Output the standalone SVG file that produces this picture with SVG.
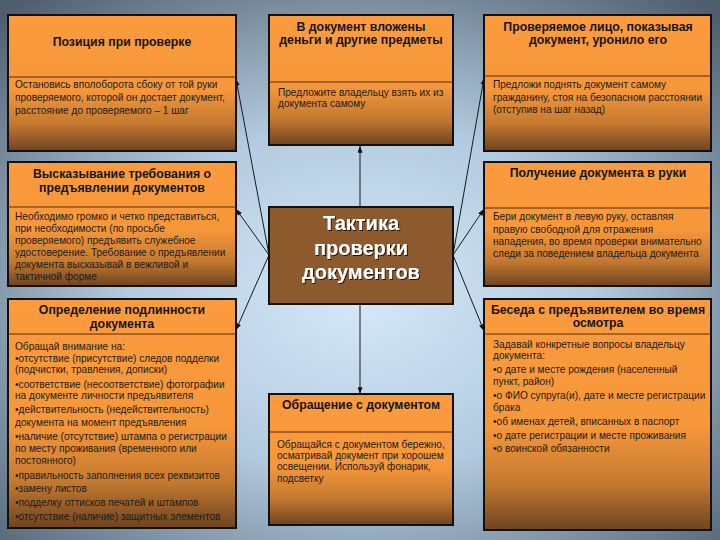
<svg xmlns="http://www.w3.org/2000/svg" width="720" height="540" viewBox="0 0 720 540">
<defs>
<radialGradient id="bg" cx="50%" cy="55%" r="72%">
<stop offset="0" stop-color="#d6e8f8"/>
<stop offset="0.45" stop-color="#b3cbe0"/>
<stop offset="1" stop-color="#4e5e6e"/>
</radialGradient>
<linearGradient id="box" x1="0" y1="0" x2="0" y2="1">
<stop offset="0" stop-color="#fb9b3d"/>
<stop offset="0.55" stop-color="#f6973a"/>
<stop offset="0.8" stop-color="#c47930"/>
<stop offset="1" stop-color="#6e4420"/>
</linearGradient>
<marker id="ah" viewBox="0 0 8 6" refX="8" refY="3" markerWidth="7" markerHeight="5" orient="auto" markerUnits="userSpaceOnUse">
<path d="M0,0 L8,3 L0,6 z" fill="#111"/>
</marker>
<filter id="sh" x="-10%" y="-10%" width="120%" height="130%">
<feDropShadow dx="1" dy="1" stdDeviation="0.6" flood-color="#000" flood-opacity="0.8"/>
</filter>
</defs>
<style>
.b{fill:url(#box);stroke:#111;stroke-width:2}
.d{stroke:#5a2a10;stroke-width:1}
.h{font-family:"Liberation Sans",Arial,sans-serif;font-size:12.3px;font-weight:bold;fill:#151515;text-anchor:middle}
.t{font-family:"Liberation Sans",Arial,sans-serif;font-size:10.1px;fill:#1c1c1c}
.c{font-family:"Liberation Sans",Arial,sans-serif;font-size:20px;font-weight:bold;fill:#fff;text-anchor:middle}
.cn{stroke:#1a1a1a;stroke-width:1;fill:none;marker-end:url(#ah)}
</style>
<rect width="720" height="540" fill="url(#bg)"/>

<g id="connectors">
<line class="cn" x1="269" y1="255" x2="236" y2="79"/>
<line class="cn" x1="269" y1="255" x2="236" y2="209"/>
<line class="cn" x1="269" y1="255" x2="236" y2="330"/>
<line class="cn" x1="453" y1="255" x2="484" y2="78"/>
<line class="cn" x1="453" y1="255" x2="484" y2="209"/>
<line class="cn" x1="453" y1="255" x2="484" y2="331"/>
<line class="cn" x1="360" y1="207" x2="360" y2="146"/>
<line class="cn" x1="360" y1="304" x2="360" y2="394"/>
</g>

<g id="center">
<rect x="269" y="207" width="184" height="97" fill="#8c5a2d" stroke="#111" stroke-width="2"/>
<g filter="url(#sh)">
<text class="c" x="361" y="230">Тактика</text>
<text class="c" x="361" y="255">проверки</text>
<text class="c" x="361" y="279">документов</text>
</g>
</g>

<g id="position">
<rect class="b" x="8" y="15" width="228" height="136"/>
<line class="d" x1="8" y1="77" x2="236" y2="77"/>
<text class="h" x="122" y="46">Позиция при проверке</text>
<text class="t" x="15" y="88">Остановись вполоборота сбоку от той руки</text>
<text class="t" x="15" y="101">проверяемого, которой он достает документ,</text>
<text class="t" x="15" y="114">расстояние до проверяемого – 1 шаг</text>
</g>

<g id="demand">
<rect class="b" x="8" y="162" width="228" height="124"/>
<line class="d" x1="8" y1="207" x2="236" y2="207"/>
<text class="h" x="122" y="178">Высказывание требования о</text>
<text class="h" x="122" y="192">предъявлении документов</text>
<text class="t" x="15" y="220">Необходимо громко и четко представиться,</text>
<text class="t" x="15" y="232">при необходимости (по просьбе</text>
<text class="t" x="15" y="244">проверяемого) предъявить служебное</text>
<text class="t" x="15" y="256">удостоверение. Требование о предъявлении</text>
<text class="t" x="15" y="268">документа высказывай в вежливой и</text>
<text class="t" x="15" y="280">тактичной форме</text>
</g>

<g id="authenticity">
<rect class="b" x="8" y="299" width="228" height="229"/>
<line class="d" x1="8" y1="334" x2="236" y2="334"/>
<text class="h" x="122" y="314">Определение подлинности</text>
<text class="h" x="122" y="328">документа</text>
<text class="t" x="15" y="350">Обращай внимание на:</text>
<text class="t" x="15" y="362">•отсутствие (присутствие) следов подделки</text>
<text class="t" x="15" y="373">(подчистки, травления, дописки)</text>
<text class="t" x="15" y="388">•соответствие (несоответствие) фотографии</text>
<text class="t" x="15" y="399">на документе личности предъявителя</text>
<text class="t" x="15" y="413">•действительность (недействительность)</text>
<text class="t" x="15" y="426">документа на момент предъявления</text>
<text class="t" x="15" y="440">•наличие (отсутствие) штампа о регистрации</text>
<text class="t" x="15" y="452">по месту проживания (временного или</text>
<text class="t" x="15" y="464">постоянного)</text>
<text class="t" x="15" y="479">•правильность заполнения всех реквизитов</text>
<text class="t" x="15" y="492">•замену листов</text>
<text class="t" x="15" y="506">•подделку оттисков печатей и штампов</text>
<text class="t" x="15" y="520">•отсутствие (наличие) защитных элементов</text>
</g>

<g id="money">
<rect class="b" x="269" y="15" width="184" height="130"/>
<line class="d" x1="269" y1="82" x2="453" y2="82"/>
<text class="h" x="361" y="31">В документ вложены</text>
<text class="h" x="361" y="44">деньги и другие предметы</text>
<text class="t" x="278" y="96">Предложите владельцу взять их из</text>
<text class="t" x="278" y="107">документа самому</text>
</g>

<g id="handling">
<rect class="b" x="269" y="394" width="184" height="131"/>
<line class="d" x1="269" y1="432" x2="453" y2="432"/>
<text class="h" x="361" y="409">Обращение с документом</text>
<text class="t" x="277" y="448">Обращайся с документом бережно,</text>
<text class="t" x="277" y="459">осматривай документ при хорошем</text>
<text class="t" x="277" y="470">освещении. Используй фонарик,</text>
<text class="t" x="277" y="482">подсветку</text>
</g>

<g id="dropped">
<rect class="b" x="484" y="15" width="227" height="136"/>
<line class="d" x1="484" y1="76" x2="711" y2="76"/>
<text class="h" x="598" y="31">Проверяемое лицо, показывая</text>
<text class="h" x="598" y="44">документ, уронило его</text>
<text class="t" x="493" y="88">Предложи поднять документ самому</text>
<text class="t" x="493" y="101">гражданину, стоя на безопасном расстоянии</text>
<text class="t" x="493" y="113">(отступив на шаг назад)</text>
</g>

<g id="receiving">
<rect class="b" x="484" y="162" width="227" height="124"/>
<line class="d" x1="484" y1="208" x2="711" y2="208"/>
<text class="h" x="598" y="177">Получение документа в руки</text>
<text class="t" x="493" y="220">Бери документ в левую руку, оставляя</text>
<text class="t" x="493" y="233">правую свободной для отражения</text>
<text class="t" x="493" y="245">нападения, во время проверки внимательно</text>
<text class="t" x="493" y="257">следи за поведением владельца документа</text>
</g>

<g id="conversation">
<rect class="b" x="484" y="299" width="227" height="231"/>
<line class="d" x1="484" y1="334" x2="711" y2="334"/>
<text class="h" x="598" y="314">Беседа с предъявителем во время</text>
<text class="h" x="598" y="327">осмотра</text>
<text class="t" x="493" y="348">Задавай конкретные вопросы владельцу</text>
<text class="t" x="493" y="359">документа:</text>
<text class="t" x="493" y="373">•о дате и месте рождения (населенный</text>
<text class="t" x="493" y="385">пункт, район)</text>
<text class="t" x="493" y="399">•о ФИО супруга(и), дате и месте регистрации</text>
<text class="t" x="493" y="411">брака</text>
<text class="t" x="493" y="425">•об именах детей, вписанных в паспорт</text>
<text class="t" x="493" y="439">•о дате регистрации и месте проживания</text>
<text class="t" x="493" y="452">•о воинской обязанности</text>
</g>
</svg>
